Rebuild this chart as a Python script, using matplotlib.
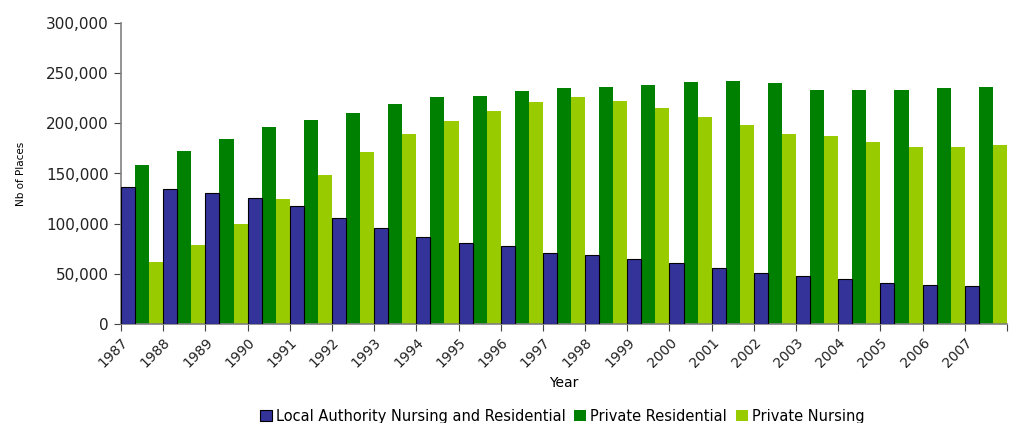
import numpy as np
import matplotlib
matplotlib.use('Agg')
import matplotlib.pyplot as plt
import matplotlib.transforms as mtransforms

years = [str(y) for y in range(1987, 2008)]
local_authority = [136500, 134500, 130500, 126000, 118000, 106000, 95400, 86400,
                   80400, 78000, 71000, 68800, 64500, 60500, 56000, 51000, 47800,
                   44500, 41000, 38500, 37900]
private_residential = [158500, 172400, 184400, 196400, 203500, 210500, 219500, 226000,
                       227000, 232000, 235000, 236000, 238000, 241000, 242000, 240000,
                       233000, 233000, 233000, 235000, 236000]
private_nursing = [61800, 78700, 99700, 124600, 148500, 171400, 189400, 202000,
                   212000, 221000, 226000, 222000, 215000, 206000, 198000, 189000,
                   187000, 181000, 176000, 176000, 178000]
series_names = ['Local Authority Nursing and Residential', 'Private Residential', 'Private Nursing']
colours = ['#333399', '#008000', '#99CC00']

plt.rcParams['font.family'] = ['DejaVu Sans']

fig = plt.figure(figsize=(10.13, 4.23), dpi=100)
ax = fig.add_axes([121/1013, 1 - 324/423, (1007-121)/1013, (324-23)/423])

x = np.arange(len(years))
w = 1/3
ax.bar(x, local_authority, w, align='edge', color=colours[0], edgecolor='black',
       linewidth=0.8, label=series_names[0], zorder=3)
ax.bar(x + w, private_residential, w, align='edge', color=colours[1], linewidth=0,
       label=series_names[1], zorder=2)
ax.bar(x + 2*w, private_nursing, w, align='edge', color=colours[2], linewidth=0,
       label=series_names[2], zorder=2)

ax.set_xlim(0, len(years))
ax.set_ylim(0, 300000)
ax.set_yticks(np.arange(0, 300001, 50000))
ax.set_yticklabels([f'{v:,}' for v in range(0, 300001, 50000)], fontsize=11, color='#222222')
ax.set_xticks(np.arange(len(years) + 1))
ax.set_xticklabels(years + [''], rotation=45, ha='right', va='top',
                   rotation_mode='anchor', fontsize=10, color='#222222')
# nudge the rotated year labels a little to the right, as in the original
shift = mtransforms.ScaledTranslation(6/100, 0, fig.dpi_scale_trans)
for lbl in ax.get_xticklabels():
    lbl.set_transform(lbl.get_transform() + shift)
ax.tick_params(axis='x', length=5, color='#444444', pad=3)
ax.tick_params(axis='y', length=5, color='#444444', pad=4)
for side in ['top', 'right']:
    ax.spines[side].set_visible(False)
for side in ['left', 'bottom']:
    ax.spines[side].set_color('#808080')
    ax.spines[side].set_linewidth(1.2)

ax.set_xlabel('Year', fontsize=10, labelpad=4)
ax.set_ylabel('Nb of Places', fontsize=7.5, labelpad=14)

fig.legend(loc='center', bbox_to_anchor=(0.555, 0.016), ncol=3, frameon=False,
           fontsize=10.5, handlelength=0.8, handleheight=0.8, handletextpad=0.3,
           columnspacing=0.6)

fig.savefig('out.png', dpi=100)
